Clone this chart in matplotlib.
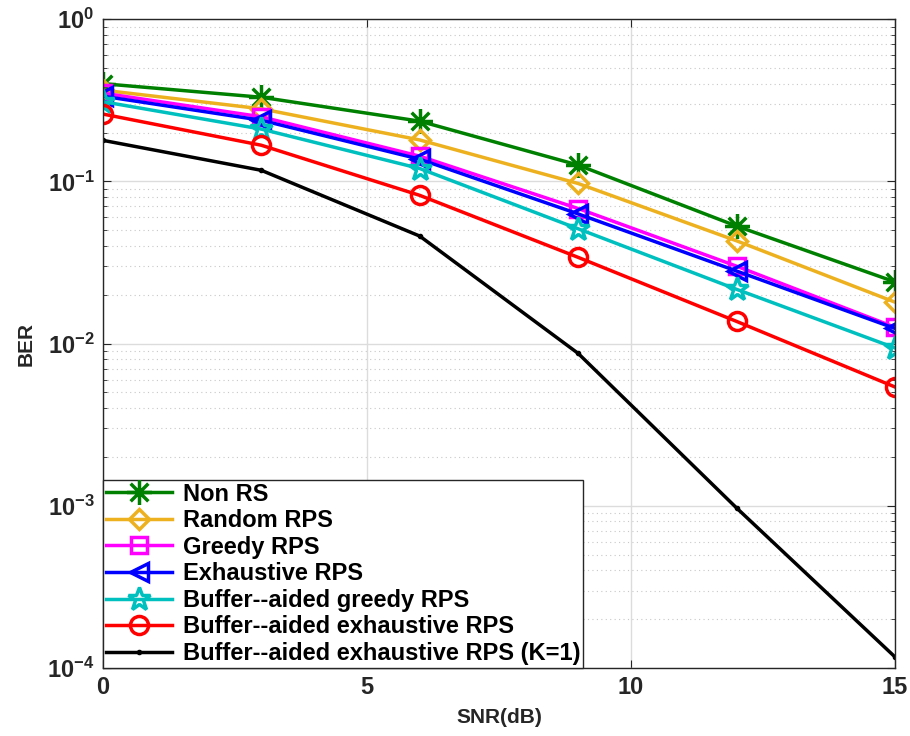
import numpy as np
import matplotlib
matplotlib.use('Agg')
import matplotlib.pyplot as plt
from matplotlib.path import Path
from matplotlib.ticker import LogLocator, NullFormatter

plt.rcParams['font.family'] = ['Liberation Sans', 'DejaVu Sans']
plt.rcParams['font.weight'] = 'bold'
plt.rcParams['mathtext.fontset'] = 'custom'
plt.rcParams['mathtext.rm'] = 'Liberation Sans:bold'
plt.rcParams['mathtext.bf'] = 'Liberation Sans:bold'
plt.rcParams['mathtext.default'] = 'bf'

snr = [0, 3, 6, 9, 12, 15]
non_rs = [0.40, 0.33, 0.235, 0.126, 0.053, 0.024]
random_rps = [0.365, 0.28, 0.18, 0.097, 0.043, 0.018]
greedy_rps = [0.35, 0.25, 0.143, 0.068, 0.030, 0.0126]
exhaustive_rps = [0.335, 0.238, 0.137, 0.063, 0.028, 0.0124]
buf_greedy = [0.31, 0.21, 0.12, 0.051, 0.0216, 0.0094]
buf_exhaustive = [0.26, 0.167, 0.082, 0.034, 0.0137, 0.0054]
buf_exhaustive_k1 = [0.179, 0.117, 0.046, 0.0087, 0.00097, 0.000117]

# matlab style '*' marker: plus + cross
d = 0.7071
star8 = Path([(-1, 0), (1, 0), (0, -1), (0, 1), (-d, -d), (d, d), (-d, d), (d, -d)],
             [Path.MOVETO, Path.LINETO] * 4)

series = [
    ('Non RS', non_rs, '#008000', star8, 18),
    ('Random RPS', random_rps, '#EDB120', 'D', 10),
    ('Greedy RPS', greedy_rps, '#FF00FF', 's', 11),
    ('Exhaustive RPS', exhaustive_rps, '#0000FF', '<', 13),
    ('Buffer--aided greedy RPS', buf_greedy, '#00BFBF', '*', 17),
    ('Buffer--aided exhaustive RPS', buf_exhaustive, '#FF0000', 'o', 13),
    ('Buffer--aided exhaustive RPS (K=1)', buf_exhaustive_k1, '#000000', '.', 6),
]

fig = plt.figure(figsize=(9.1, 7.36), dpi=100)
ax = fig.add_axes([0.113, 0.0924, 0.8705, 0.8816])

for name, vals, col, mk, ms in series:
    if mk == '.':
        kw = dict(markerfacecolor=col, markeredgecolor=col)
    else:
        kw = dict(markerfacecolor='none', markeredgecolor=col, markeredgewidth=2.5)
    ax.semilogy(snr, vals, color=col, marker=mk, markersize=ms, linewidth=2.5,
                label=name, **kw)

ax.set_xlim(0, 15)
ax.set_ylim(1e-4, 1)
ax.set_xticks([0, 5, 10, 15])
ax.yaxis.set_major_locator(LogLocator(base=10, numticks=10))
ax.yaxis.set_minor_locator(LogLocator(base=10, subs=np.arange(2, 10), numticks=10))
ax.yaxis.set_minor_formatter(NullFormatter())
ax.grid(True, which='major', color='#dcdcdc', linewidth=1, linestyle='-')
ax.grid(True, which='minor', axis='y', color='#c8c8c8', linewidth=0.8, linestyle=(0, (1, 3)))
ax.set_axisbelow(True)
ax.tick_params(which='both', direction='in', top=True, right=True, labelsize=17, colors='#262626')
ax.tick_params(which='major', length=6, pad=6)
ax.tick_params(which='minor', length=3)
for lbl in ax.get_xticklabels() + ax.get_yticklabels():
    lbl.set_fontweight('bold')
for sp in ax.spines.values():
    sp.set_color('#262626')
    sp.set_linewidth(1)

ax.set_xlabel('SNR(dB)', fontsize=15, fontweight='bold', labelpad=6, color='#262626')
ax.set_ylabel('BER', fontsize=15, fontweight='bold', labelpad=8, color='#262626')

leg = ax.legend(loc='lower left', borderaxespad=0, prop={'weight': 'bold', 'size': 17},
                fancybox=False, edgecolor='#262626', framealpha=1, handlelength=2.8,
                labelspacing=0.15, borderpad=0.13, handletextpad=0.45)
leg.get_frame().set_linewidth(1)

plt.savefig('out.png', dpi=100)
